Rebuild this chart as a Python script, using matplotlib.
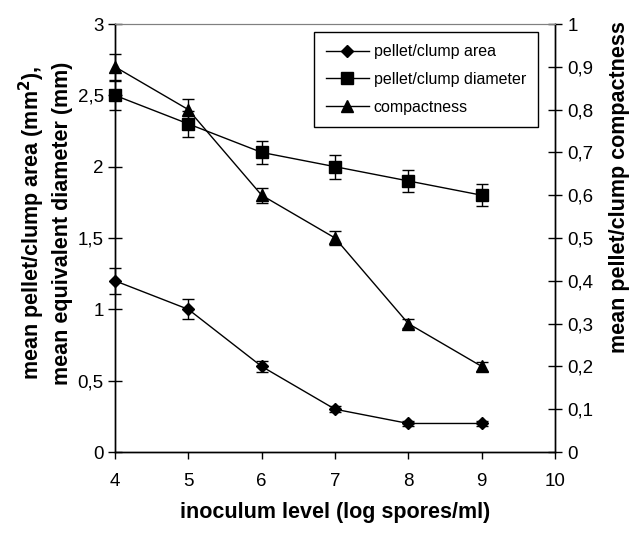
import matplotlib
matplotlib.use("Agg")
import matplotlib.pyplot as plt
from matplotlib.lines import Line2D
from matplotlib.ticker import FuncFormatter

plt.rcParams["font.family"] = ["Liberation Sans", "DejaVu Sans"]

# inoculum level (log spores/ml)
inoculum = [4, 5, 6, 7, 8, 9]

# pellet/clump area (mm2) and its error
area = [1.2, 1.0, 0.6, 0.3, 0.2, 0.2]
area_err = [0.09, 0.07, 0.04, 0.02, 0.02, 0.02]

# pellet/clump equivalent diameter (mm) and its error
diameter = [2.5, 2.3, 2.1, 2.0, 1.9, 1.8]
diameter_err = [0.1, 0.09, 0.08, 0.085, 0.075, 0.077]

# compactness (right axis) and its error
compactness = [0.9, 0.8, 0.6, 0.5, 0.3, 0.2]
compactness_err = [0.03, 0.025, 0.018, 0.017, 0.01, 0.01]

left_ticks = [0, 0.5, 1, 1.5, 2, 2.5, 3]
right_ticks = [0, 0.1, 0.2, 0.3, 0.4, 0.5, 0.6, 0.7, 0.8, 0.9, 1]
x_ticks = [4, 5, 6, 7, 8, 9, 10]


def comma(v, pos=None):
    return ("%g" % v).replace(".", ",")


fig = plt.figure(figsize=(6.3, 5.36), dpi=100)
ax = fig.add_axes([0.1825, 0.1567, 0.6985, 0.7985])
ax2 = ax.twinx()

style = dict(color="black", lw=1.0, elinewidth=1.0, capsize=4.3,
             capthick=1.0, clip_on=False)
markers = {"area": ("D", 6.5), "diameter": ("s", 8), "compactness": ("^", 8.5)}

h1 = ax.errorbar(inoculum, area, yerr=area_err, marker=markers["area"][0],
                 ms=markers["area"][1], **style)
h2 = ax.errorbar(inoculum, diameter, yerr=diameter_err,
                 marker=markers["diameter"][0], ms=markers["diameter"][1], **style)
h3 = ax2.errorbar(inoculum, compactness, yerr=compactness_err,
                  marker=markers["compactness"][0], ms=markers["compactness"][1],
                  **style)
for h in (h1, h2, h3):
    for part in h.lines[1] + h.lines[2]:
        part.set_clip_on(False)

ax.set_xlim(4, 10)
ax.set_ylim(0, 3)
ax2.set_ylim(0, 1)
ax.set_xticks(x_ticks)
ax.set_yticks(left_ticks)
ax2.set_yticks(right_ticks)
ax.yaxis.set_major_formatter(FuncFormatter(comma))
ax2.yaxis.set_major_formatter(FuncFormatter(comma))

ax.tick_params(axis="x", direction="out", length=5, width=1, labelsize=13.5, pad=10)
ax.tick_params(axis="y", direction="inout", length=10, width=1, labelsize=13.5, pad=3)
ax2.tick_params(axis="y", direction="inout", length=10, width=1, labelsize=13.5, pad=4)

for a in (ax, ax2):
    a.spines["top"].set_color("#808080")
    for s in ("left", "right", "bottom"):
        a.spines[s].set_color("black")
        a.spines[s].set_linewidth(1.0)

ax.set_xlabel("inoculum level (log spores/ml)", fontsize=15.5,
              fontweight="bold", labelpad=9)
ax.set_ylabel("mean pellet/clump area (mm$^\\mathbf{2}$),\nmean equivalent diameter (mm)",
              fontsize=15.5, fontweight="bold", linespacing=1.35)
ax.yaxis.set_label_coords(-0.095, 0.535)
fig.text(0.983, 0.651, "mean pellet/clump compactness", rotation=90,
         fontsize=15.5, fontweight="bold", ha="center", va="center")

handles = [
    Line2D([], [], color="black", lw=1.0, marker=markers["area"][0],
           ms=markers["area"][1], label="pellet/clump area"),
    Line2D([], [], color="black", lw=1.0, marker=markers["diameter"][0],
           ms=markers["diameter"][1], label="pellet/clump diameter"),
    Line2D([], [], color="black", lw=1.0, marker=markers["compactness"][0],
           ms=markers["compactness"][1], label="compactness"),
]
leg = fig.legend(handles=handles, loc="upper right",
                 bbox_to_anchor=(0.854, 0.94), borderaxespad=0, fontsize=11.5,
                 frameon=True, fancybox=False, edgecolor="black", framealpha=1,
                 handlelength=2.7, labelspacing=0.8, borderpad=0.75,
                 handletextpad=0.3)
leg.get_frame().set_linewidth(1.0)

fig.savefig("out.png", dpi=100)
